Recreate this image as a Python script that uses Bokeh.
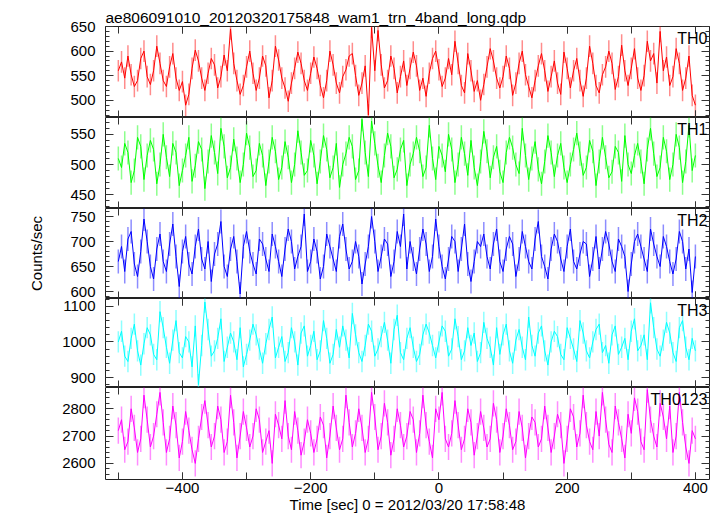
from bokeh.plotting import figure
from bokeh.layouts import column
from bokeh.models import (Range1d, LinearAxis, Label, SingleIntervalTicker,
                          ColumnDataSource, CustomJSTickFormatter)
from bokeh.embed import file_html
from bokeh.resources import INLINE

title_text = "ae806091010_20120320175848_wam1_trn_4band_long.qdp"
x_label = "Time [sec] 0 = 2012/03/20 17:58:48"
y_label = "Counts/sec"

# time grid (sec), 5 s steps from -500 to 400
t_start, t_step, n_pts = -500, 5, 181
times = [t_start + t_step * i for i in range(n_pts)]

th0 = [560, 578, 545, 590, 552, 528, 540, 585, 600, 548,
       532, 560, 610, 575, 540, 528, 568, 595, 545, 520,
       538, 490, 512, 565, 602, 580, 545, 520, 555, 585,
       572, 525, 548, 592, 560, 645, 575, 540, 512, 530,
       568, 600, 555, 520, 545, 590, 570, 505, 540, 610,
       582, 545, 525, 498, 535, 565, 598, 575, 540, 520,
       555, 588, 565, 530, 505, 540, 600, 572, 535, 515,
       548, 562, 590, 595, 550, 510, 535, 570, 470, 648,
       560, 642, 572, 525, 540, 590, 565, 515, 548, 580,
       530, 565, 598, 570, 520, 545, 508, 555, 585, 600,
       562, 528, 545, 585, 552, 620, 575, 530, 515, 595,
       560, 518, 540, 500, 532, 568, 605, 580, 545, 525,
       548, 590, 565, 510, 535, 575, 600, 552, 528, 505,
       540, 570, 595, 560, 518, 548, 580, 535, 512, 598,
       565, 525, 560, 585, 540, 508, 545, 610, 575, 530,
       515, 552, 568, 600, 575, 522, 548, 612, 560, 530,
       565, 605, 545, 520, 550, 620, 580, 595, 535, 640,
       560, 588, 530, 548, 605, 575, 520, 545, 590, 510,
       490]

th1 = [510, 495, 535, 520, 470, 490, 545, 530, 475, 515,
       540, 525, 468, 500, 550, 512, 480, 535, 520, 465,
       490, 515, 545, 472, 498, 538, 525, 460, 505, 548,
       520, 485, 560, 530, 478, 495, 542, 510, 470, 500,
       552, 528, 480, 490, 535, 515, 465, 505, 545, 522,
       475, 495, 538, 512, 470, 500, 556, 520, 482, 490,
       540, 515, 468, 505, 548, 525, 478, 495, 535, 462,
       500, 518, 545, 530, 475, 490, 575, 520, 480, 572,
       535, 498, 470, 515, 552, 530, 478, 492, 525, 540,
       465, 500, 518, 545, 522, 480, 495, 565, 510, 475,
       530, 515, 488, 550, 525, 470, 500, 545, 518, 482,
       540, 495, 465, 505, 555, 522, 478, 512, 530, 488,
       470, 520, 545, 528, 500, 485, 560, 515, 475, 510,
       538, 492, 468, 505, 548, 520, 480, 515, 535, 495,
       470, 500, 525, 552, 518, 482, 495, 540, 522, 465,
       505, 545, 512, 478, 488, 530, 520, 472, 548, 500,
       485, 515, 535, 505, 468, 525, 560, 518, 480, 495,
       545, 522, 475, 500, 550, 528, 470, 505, 565, 490,
       515]

th2 = [660, 690, 640, 705, 720, 655, 630, 680, 745, 700,
       650, 625, 685, 715, 660, 640, 695, 735, 670, 610,
       680, 710, 655, 635, 690, 725, 665, 645, 700, 620,
       675, 695, 740, 650, 630, 685, 710, 660, 595, 690,
       720, 680, 655, 635, 705, 695, 665, 640, 715, 690,
       660, 630, 685, 725, 700, 645, 670, 690, 755, 640,
       660, 705, 680, 625, 650, 715, 690, 665, 640, 710,
       735, 685, 645, 660, 700, 670, 615, 655, 690, 750,
       700, 640, 670, 705, 695, 630, 660, 720, 690, 755,
       645, 700, 665, 635, 685, 725, 695, 640, 670, 745,
       690, 650, 625, 665, 710, 700, 640, 685, 735, 655,
       620, 660, 700, 690, 715, 670, 645, 695, 725, 660,
       640, 685, 710, 695, 630, 665, 720, 690, 660, 645,
       705, 740, 670, 650, 625, 685, 715, 700, 665, 640,
       690, 725, 660, 645, 675, 700, 695, 630, 665, 710,
       645, 685, 720, 695, 660, 640, 705, 690, 670, 600,
       655, 700, 715, 690, 665, 640, 725, 695, 670, 650,
       710, 690, 660, 635, 665, 720, 700, 645, 685, 598,
       670]

th3 = [1000, 1030, 960, 945, 1010, 1050, 975, 935, 995, 1040,
       1020, 965, 950, 1085, 1040, 985, 940, 1005, 1060, 970,
       955, 1015, 1000, 930, 1045, 880, 990, 1112, 1035, 960,
       975, 1010, 1065, 945, 985, 1025, 1000, 950, 1040, 930,
       965, 1005, 1050, 1020, 980, 940, 995, 1035, 1070, 955,
       985, 1015, 945, 970, 1040, 1000, 935, 1025, 1045, 960,
       990, 1030, 950, 975, 1060, 1010, 940, 965, 1035, 985,
       1045, 1005, 955, 1080, 1020, 970, 945, 990, 1050, 1030,
       960, 980, 1015, 1055, 1005, 940, 1035, 1075, 970, 950,
       1010, 1040, 985, 945, 965, 1020, 1050, 1025, 990, 955,
       1000, 1045, 1030, 960, 980, 1065, 1015, 950, 975, 1040,
       990, 1025, 945, 970, 1055, 1010, 985, 935, 1040, 965,
       1020, 1050, 975, 940, 1005, 1035, 985, 950, 1070, 990,
       960, 1025, 1045, 975, 935, 1000, 1030, 1015, 965, 950,
       1040, 1010, 980, 945, 1060, 1025, 975, 955, 1000, 1035,
       1050, 970, 990, 940, 1020, 1045, 965, 985, 1010, 950,
       1030, 1065, 975, 990, 1020, 950, 1110, 1040, 980, 960,
       1005, 1055, 1025, 970, 945, 1040, 1060, 985, 950, 1010,
       975]

th0123 = [2720, 2760, 2650, 2680, 2800, 2730, 2640, 2690, 2850, 2760,
          2660, 2700, 2780, 2860, 2750, 2640, 2690, 2810, 2740, 2620,
          2680, 2790, 2720, 2650, 2600, 2690, 2770, 2830, 2740, 2660,
          2700, 2810, 2760, 2640, 2680, 2850, 2750, 2620, 2700, 2790,
          2730, 2660, 2700, 2800, 2760, 2640, 2680, 2720, 2600, 2780,
          2740, 2690, 2830, 2700, 2650, 2790, 2720, 2630, 2680, 2760,
          2710, 2640, 2690, 2770, 2740, 2620, 2700, 2810, 2730, 2650,
          2690, 2850, 2750, 2660, 2710, 2800, 2730, 2640, 2690, 2860,
          2770, 2650, 2700, 2820, 2750, 2630, 2690, 2800, 2740, 2660,
          2700, 2790, 2760, 2640, 2710, 2850, 2740, 2680, 2620, 2800,
          2760, 2860, 2690, 2660, 2710, 2830, 2740, 2650, 2690, 2800,
          2750, 2630, 2700, 2790, 2730, 2660, 2690, 2820, 2760, 2640,
          2700, 2800, 2740, 2650, 2680, 2790, 2730, 2620, 2700, 2770,
          2750, 2660, 2690, 2810, 2730, 2640, 2700, 2780, 2740, 2600,
          2690, 2800, 2770, 2660, 2710, 2850, 2740, 2680, 2650, 2790,
          2700, 2860, 2760, 2670, 2640, 2810, 2750, 2690, 2620, 2780,
          2710, 2840, 2790, 2680, 2650, 2870, 2760, 2700, 2660, 2820,
          2770, 2690, 2810, 2640, 2700, 2860, 2750, 2660, 2600, 2720,
          2690]

# per-band 1-sigma errors (counts/sec)
errors = [22, 20, 24, 30, 48]
names = ["TH0", "TH1", "TH2", "TH3", "TH0123"]
series = [th0, th1, th2, th3, th0123]
colors = ["#ff0000", "#00ff00", "#0000ff", "#00ffff", "#ff00ff"]
y_ranges = [(465, 650), (427, 578), (586, 766), (872, 1122), (2541, 2878)]
y_intervals = [50, 50, 50, 100, 100]
heights = [117, 91, 90, 89, 128]

FONT = "Liberation Sans"
x_range = Range1d(-520, 422)
blank = CustomJSTickFormatter(code="return ''")

figs = []
for i, (name, vals, err, col, yr, yint, h) in enumerate(
        zip(names, series, errors, colors, y_ranges, y_intervals, heights)):
    last = i == len(names) - 1
    p = figure(width=712, height=h, x_range=x_range, y_range=Range1d(*yr),
               output_backend="svg", toolbar_location=None,
               x_axis_location=None, y_axis_location=None,
               min_border_left=105, min_border_right=3,
               min_border_top=26 if i == 0 else 0, min_border_bottom=0)
    p.grid.visible = False
    p.outline_line_color = "#222222"
    p.outline_line_width = 1
    p.background_fill_color = "white"
    p.border_fill_color = "white"

    src = ColumnDataSource(dict(
        t=times, v=vals,
        lo=[v - err for v in vals], hi=[v + err for v in vals]))
    p.segment(x0="t", y0="lo", x1="t", y1="hi", source=src,
              line_color=col, line_alpha=0.45, line_width=1.5)
    p.line(x="t", y="v", source=src, line_color=col, line_width=1)

    for side in ("left", "right"):
        ax = LinearAxis(ticker=SingleIntervalTicker(interval=yint, num_minor_ticks=5))
        ax.major_tick_in = 8
        ax.major_tick_out = 0
        ax.minor_tick_in = 4
        ax.minor_tick_out = 0
        ax.axis_line_color = None
        ax.major_tick_line_color = "#333333"
        ax.minor_tick_line_color = "#333333"
        if side == "left":
            ax.major_label_text_font = FONT
            ax.major_label_text_font_size = "15px"
            ax.major_label_text_color = "black"
            ax.major_label_standoff = 10
            if name == "TH2":
                ax.axis_label = y_label
                ax.axis_label_text_font = FONT
                ax.axis_label_text_font_size = "15px"
                ax.axis_label_text_font_style = "normal"
                ax.axis_label_text_color = "black"
                ax.axis_label_standoff = 22
        else:
            ax.formatter = blank
            ax.major_label_standoff = 0
        p.add_layout(ax, side)

    for side in ("above", "below"):
        ax = LinearAxis(ticker=SingleIntervalTicker(interval=200, num_minor_ticks=2))
        ax.major_tick_in = 7
        ax.major_tick_out = 0
        ax.minor_tick_in = 7
        ax.minor_tick_out = 0
        ax.axis_line_color = None
        ax.major_tick_line_color = "#333333"
        ax.minor_tick_line_color = "#333333"
        if side == "below" and last:
            ax.major_label_text_font = FONT
            ax.major_label_text_font_size = "15px"
            ax.major_label_text_color = "black"
            ax.major_label_standoff = 3
            ax.axis_label = x_label
            ax.axis_label_text_font = FONT
            ax.axis_label_text_font_size = "15px"
            ax.axis_label_text_font_style = "normal"
            ax.axis_label_text_color = "black"
            ax.axis_label_standoff = 0
        else:
            ax.formatter = blank
            ax.major_label_standoff = 0
        p.add_layout(ax, side)

    p.add_layout(Label(x=x_range.end, y=yr[1], text=name, x_offset=-2, y_offset=-3,
                       text_align="right", text_baseline="top",
                       text_font=FONT, text_font_size="16px", text_color="black"))

    if i == 0:
        p.title.text = title_text
        p.title.text_font = FONT
        p.title.text_font_size = "15.5px"
        p.title.text_font_style = "normal"
        p.title.text_color = "black"
        p.title.align = "left"
        p.title.standoff = 2
    figs.append(p)

layout = column(*figs, spacing=0)
open("out.html", "w").write(file_html(layout, INLINE))
